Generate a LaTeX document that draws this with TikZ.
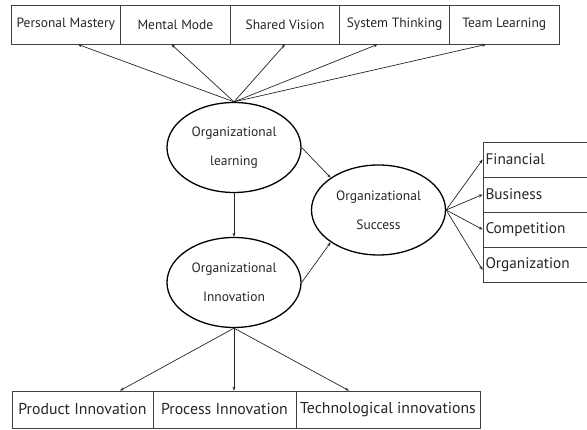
\documentclass[tikz,border=0pt]{standalone}
\usepackage{fontspec}
\setmainfont{PT Sans}
\usetikzlibrary{shapes.geometric,arrows.meta}
\begin{document}
\begin{tikzpicture}[x=1pt,y=-1pt,
  every node/.style={font=\fontsize{13.5}{15}\selectfont, text=black!85, inner sep=0pt},
  cell/.style={draw=black!75, line width=0.75pt, rectangle, minimum height=39pt},
  sidecell/.style={draw=black!75, line width=0.75pt, rectangle, minimum height=35pt,
    minimum width=105pt, text width=100pt, align=left, font=\fontsize{15.3}{17}\selectfont},
  lowcell/.style={draw=black!75, line width=0.75pt, rectangle, minimum height=37pt,
    font=\fontsize{15.8}{17}\selectfont},
  construct/.style={draw=black, line width=1.3pt, ellipse, minimum width=134pt,
    minimum height=90pt, align=center, font=\fontsize{13.5}{29}\selectfont},
  link/.style={draw=black!85, line width=0.7pt, -{Stealth[length=4pt,width=3pt]}}]
\useasboundingbox (0,0) rectangle (587,430);

% top row: disciplines of the learning organization
\node[cell, minimum width=109.6pt] (pm) at (65.8,24.5) {Personal Mastery};
\node[cell, minimum width=109.6pt] (mm) at (175.4,24.5) {Mental Mode};
\node[cell, minimum width=109.6pt] (sv) at (285,24.5) {Shared Vision};
\node[cell, minimum width=109.6pt] (st) at (394.6,24.5) {System Thinking};
\node[cell, minimum width=109.6pt] (tl) at (504.2,24.5) {Team Learning};

% constructs
\node[construct] (ol) at (234,147.5) {Organizational\\learning};
\node[construct] (oi) at (234,282.5) {Organizational\\Innovation};
\node[construct] (os) at (378.5,210) {Organizational\\Success};

% right column: success dimensions
\node[sidecell] (fi) at (535.5,159.5) {Financial};
\node[sidecell] (bu) at (535.5,194.5) {Business};
\node[sidecell] (co) at (535.5,229.5) {Competition};
\node[sidecell] (or) at (535.5,265) {Organization};

% bottom row: innovation types
\node[lowcell, minimum width=141pt] (pi) at (82.5,409.5) {Product Innovation};
\node[lowcell, minimum width=143pt] (pr) at (224.5,409.5) {Process Innovation};
\node[lowcell, minimum width=184pt] (ti) at (388,409.5) {Technological innovations};

% learning disciplines
\draw[link] (ol.north) -- ([xshift=12pt]pm.south);
\draw[link] (ol.north) -- ([xshift=-4pt]mm.south);
\draw[link] (ol.north) -- (sv.south);
\draw[link] (ol.north) -- ([xshift=-17pt]st.south);
\draw[link] (ol.north) -- ([xshift=-18pt]tl.south);

% structural paths
\draw[link] (ol.east) -- (os.146);
\draw[link] (ol.south) -- (oi.north);
\draw[link] (oi.east) -- (os.214);

% success dimensions
\draw[link] (os.east) -- (fi.west);
\draw[link] (os.east) -- (bu.west);
\draw[link] (os.east) -- (co.west);
\draw[link] (os.east) -- ([yshift=-5pt]or.west);

% innovation types
\draw[link] (oi.south) -- ([xshift=37.5pt]pi.north);
\draw[link] (oi.south) -- ([xshift=9.5pt]pr.north);
\draw[link] (oi.south) -- ([xshift=-39pt]ti.north);
\end{tikzpicture}
\end{document}
